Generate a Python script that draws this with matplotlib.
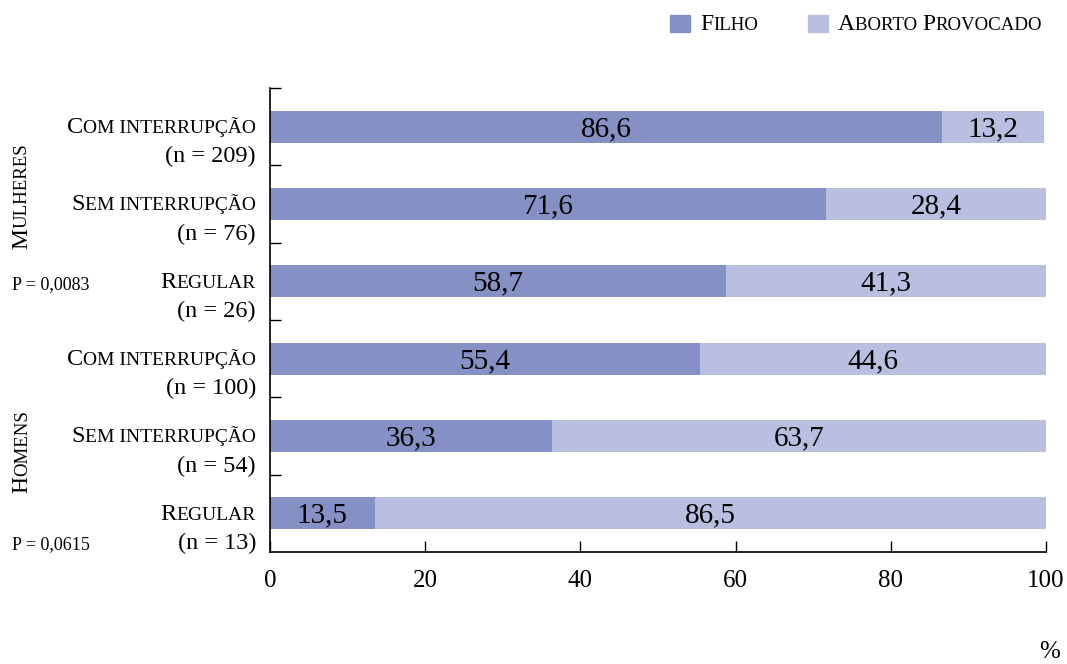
import matplotlib
matplotlib.use("Agg")
import matplotlib.pyplot as plt
from matplotlib.offsetbox import TextArea, HPacker, VPacker, AnnotationBbox
from matplotlib.patches import Rectangle

plt.rcParams["font.family"] = ["Liberation Serif", "DejaVu Serif"]

categorias = ["Com interrupção", "Sem interrupção", "Regular",
              "Com interrupção", "Sem interrupção", "Regular"]
amostras = ["(n = 209)", "(n = 76)", "(n = 26)", "(n = 100)", "(n = 54)", "(n = 13)"]
filho = [86.6, 71.6, 58.7, 55.4, 36.3, 13.5]
aborto = [13.2, 28.4, 41.3, 44.6, 63.7, 86.5]
grupos = ["Mulheres", "Homens"]
pvalores = ["P = 0,0083", "P = 0,0615"]

cor_filho = "#8590c4"
cor_aborto = "#b9bfe1"
W, H = 1067, 664
FATOR = 0.8


def partes_versalete(texto):
    partes = []
    atual, baixo = "", None
    for c in texto:
        b = c.islower() or (c == " " and baixo)
        if baixo is None or b == baixo:
            atual += c
        else:
            partes.append((atual, baixo))
            atual = c
        baixo = b
    partes.append((atual, baixo))
    return partes


def versalete(texto, tam):
    # small caps: lowercase letters become smaller capitals
    filhos = []
    for s, b in partes_versalete(texto):
        t = tam * FATOR if b else tam
        filhos.append(TextArea(s.upper(), textprops=dict(fontsize=t)))
    return HPacker(children=filhos, align="baseline", pad=0, sep=0)


fig = plt.figure(figsize=(W / 100, H / 100), dpi=100)
ax = fig.add_axes([270 / W, 112 / H, 776 / W, 464 / H])

y = list(range(len(categorias)))
ax.barh(y, filho, height=0.41, color=cor_filho)
ax.barh(y, aborto, left=filho, height=0.41, color=cor_aborto)

for i in y:
    ax.text(filho[i] / 2, i + 0.03, f"{filho[i]:.1f}".replace(".", ","),
            ha="center", va="center", fontsize=21)
    ax.text(filho[i] + aborto[i] / 2, i + 0.03, f"{aborto[i]:.1f}".replace(".", ","),
            ha="center", va="center", fontsize=21)

ax.set_xlim(0, 100)
ax.set_ylim(5.5, -0.5)
ax.set_xticks([0, 20, 40, 60, 80, 100])
ax.set_xticklabels(["0", "20", "40", "60", "80", "100"], fontsize=18)
ax.set_yticks([i - 0.5 for i in range(len(categorias))])
ax.set_yticklabels([])
ax.tick_params(axis="x", direction="in", length=8, width=1, pad=13)
ax.tick_params(axis="y", direction="in", length=8, width=1)
for s in ["top", "right"]:
    ax.spines[s].set_visible(False)
for s in ["left", "bottom"]:
    ax.spines[s].set_linewidth(1.2)

# category labels
for i in y:
    caixa = VPacker(children=[versalete(categorias[i], 17.5),
                              TextArea(amostras[i], textprops=dict(fontsize=17.5))],
                    align="right", pad=0, sep=6)
    ab = AnnotationBbox(caixa, (-0.018, i + 0.2), xycoords=("axes fraction", "data"),
                        box_alignment=(1, 0.5), frameon=False, pad=0)
    ax.add_artist(ab)

# group labels, rotated small caps built piece by piece
renderer = fig.canvas.get_renderer()
for g, yc in zip(grupos, [196, 452]):
    pecas = partes_versalete(g)
    tam = 17
    textos = []
    total = 0
    for s, b in pecas:
        t = fig.text(0, 0, s.upper(), fontsize=tam * FATOR if b else tam, rotation=90,
                     rotation_mode="anchor", ha="left", va="baseline",
                     transform=None)
        comp = t.get_window_extent(renderer).height
        textos.append((t, comp))
        total += comp
    pos = (H - yc) - total / 2
    for t, comp in textos:
        t.set_position((27, pos))
        pos += comp

for p, yc in zip(pvalores, [285, 545]):
    fig.text(12 / W, 1 - yc / H, p, fontsize=13, ha="left", va="center")

fig.text(1050 / W, 1 - 652 / H, "%", fontsize=18, ha="center", va="center")

# legend
for x0, nome, cor in [(670, "Filho", cor_filho), (808, "Aborto Provocado", cor_aborto)]:
    fig.patches.append(Rectangle((x0 / W, 1 - 32 / H), 20 / W, 17 / H,
                                 transform=fig.transFigure, color=cor))
    ab = AnnotationBbox(versalete(nome, 17), ((x0 + 30), H - 24), xycoords="figure pixels",
                        box_alignment=(0, 0.5), frameon=False, pad=0)
    fig.add_artist(ab)

fig.savefig("out.png", dpi=100)
